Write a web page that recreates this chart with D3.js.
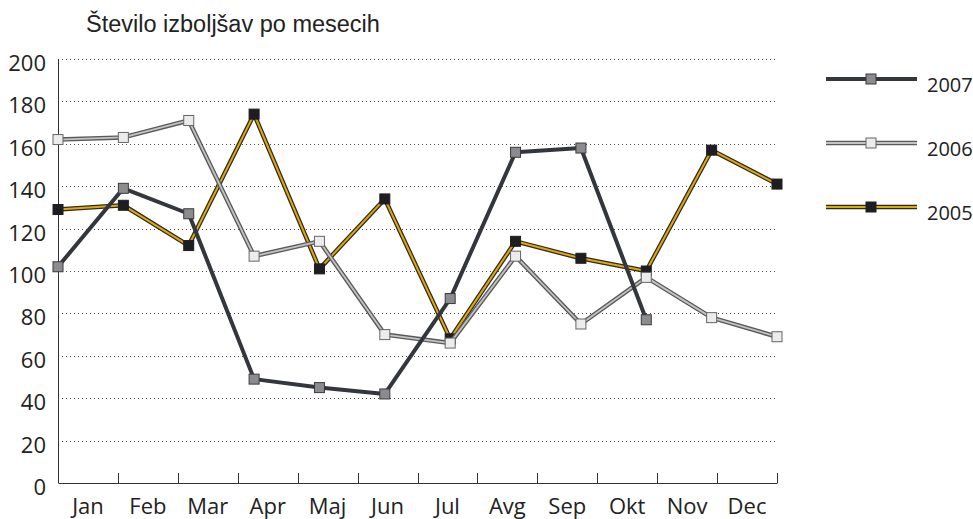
<!DOCTYPE html>
<html>
<head>
<meta charset="utf-8">
<script src="https://cdn.jsdelivr.net/npm/d3@7"></script>
<style>
    body { margin: 0; background: #fff; }
    svg { display: block; font-family: "Open Sans", "Noto Sans", sans-serif; }
</style>
</head>
<body>
<script>
const months = ["Jan", "Feb", "Mar", "Apr", "Maj", "Jun", "Jul", "Avg", "Sep", "Okt", "Nov", "Dec"]
const yTicks = [0, 20, 40, 60, 80, 100, 120, 140, 160, 180, 200]

const values2007 = [102, 139, 127, 49, 45, 42, 87, 156, 158, 77]
const values2006 = [162, 163, 171, 107, 114, 70, 66, 107, 75, 97, 78, 69]
const values2005 = [129, 131, 112, 174, 101, 134, 68, 114, 106, 100, 157, 141]

const WIDTH = 973
const HEIGHT = 519

const PADDING = {
    left: 58,
    right: 196,
    top: 59,
    bottom: 36
}

const series = [
    { name: "2007", values: values2007, outer: "#33363c", outerW: 4, inner: "#33363c", innerW: 0, fill: "#8c8c8e", stroke: "#3a3a3e" },
    { name: "2006", values: values2006, outer: "#5a5a5c", outerW: 4.5, inner: "#c4c4c4", innerW: 1.8, fill: "#ececec", stroke: "#666" },
    { name: "2005", values: values2005, outer: "#2a2a2a", outerW: 4.5, inner: "#e3a800", innerW: 2, fill: "#1e1e22", stroke: "#1e1e22" }
]

const svg = d3.select("body")
    .append("svg")
    .attr("width", WIDTH)
    .attr("height", HEIGHT)

svg.append("text")
    .attr("x", 86)
    .attr("y", 32)
    .style("font-family", "'Liberation Sans', Arial, sans-serif")
    .style("font-size", "23.5px")
    .style("fill", "#222")
    .text("Število izboljšav po mesecih")

const xBand = d3.scaleBand()
    .domain(months)
    .range([PADDING.left, WIDTH - PADDING.right])

const xPoint = d3.scalePoint()
    .domain(months)
    .range([PADDING.left, WIDTH - PADDING.right])

const yScale = d3.scaleLinear()
    .domain([0, 200])
    .range([HEIGHT - PADDING.bottom, PADDING.top])

// dotted grid
svg.append("g")
    .selectAll("line")
    .data(yTicks.filter(d => d > 0))
    .enter()
    .append("line")
    .attr("x1", PADDING.left)
    .attr("x2", WIDTH - PADDING.right)
    .attr("y1", d => Math.round(yScale(d)) + 0.5)
    .attr("y2", d => Math.round(yScale(d)) + 0.5)
    .attr("stroke", "#444")
    .attr("stroke-width", 1)
    .attr("stroke-dasharray", "1,3")

// y labels
svg.append("g")
    .selectAll("text")
    .data(yTicks)
    .enter()
    .append("text")
    .attr("x", 46)
    .attr("y", d => yScale(d) + 12)
    .attr("text-anchor", "end")
    .style("font-size", "22px")
    .style("fill", "#222")
    .text(d => d)

// axes lines
svg.append("line")
    .attr("x1", PADDING.left + 0.5)
    .attr("x2", PADDING.left + 0.5)
    .attr("y1", PADDING.top)
    .attr("y2", HEIGHT - PADDING.bottom)
    .attr("stroke", "#333")

const xAxis = d3.axisBottom(xBand).tickSize(0).tickFormat("")
const xg = svg.append("g")
    .attr("transform", "translate(0," + (HEIGHT - PADDING.bottom) + ")")
    .call(xAxis)
xg.select(".domain").attr("stroke", "#333")

svg.append("g")
    .selectAll("line")
    .data(months.concat(["end"]))
    .enter()
    .append("line")
    .attr("x1", (d, i) => Math.round(i < 12 ? xBand(d) : WIDTH - PADDING.right) + 0.5)
    .attr("x2", (d, i) => Math.round(i < 12 ? xBand(d) : WIDTH - PADDING.right) + 0.5)
    .attr("y1", HEIGHT - PADDING.bottom)
    .attr("y2", HEIGHT - PADDING.bottom - 10)
    .attr("stroke", "#333")

svg.append("g")
    .selectAll("text")
    .data(months)
    .enter()
    .append("text")
    .attr("x", d => xBand(d) + xBand.bandwidth() / 2)
    .attr("y", 514)
    .attr("text-anchor", "middle")
    .style("font-size", "22px")
    .style("fill", "#222")
    .text(d => d)

// series
const line = d3.line()
    .x((d, i) => xPoint(months[i]))
    .y(d => yScale(d))

series.slice().reverse().forEach(s => {
    const g = svg.append("g")
    g.append("path")
        .attr("d", line(s.values))
        .attr("fill", "none")
        .attr("stroke", s.outer)
        .attr("stroke-width", s.outerW)
        .attr("stroke-linejoin", "round")
    if (s.innerW > 0) {
        g.append("path")
            .attr("d", line(s.values))
            .attr("fill", "none")
            .attr("stroke", s.inner)
            .attr("stroke-width", s.innerW)
            .attr("stroke-linejoin", "round")
    }
    g.selectAll("rect")
        .data(s.values)
        .enter()
        .append("rect")
        .attr("x", (d, i) => xPoint(months[i]) - 5)
        .attr("y", d => yScale(d) - 5)
        .attr("width", 10)
        .attr("height", 10)
        .attr("fill", s.fill)
        .attr("stroke", s.stroke)
        .attr("stroke-width", 1)
})

// legend
const legend = svg.append("g")
    .attr("transform", "translate(826, 79)")

series.forEach((s, i) => {
    const row = legend.append("g")
        .attr("transform", "translate(0," + (i * 64) + ")")
    row.append("line")
        .attr("x1", 0).attr("x2", 91)
        .attr("stroke", s.outer)
        .attr("stroke-width", s.outerW)
    if (s.innerW > 0) {
        row.append("line")
            .attr("x1", 0).attr("x2", 91)
            .attr("stroke", s.inner)
            .attr("stroke-width", s.innerW)
    }
    row.append("rect")
        .attr("x", 40).attr("y", -5)
        .attr("width", 10).attr("height", 10)
        .attr("fill", s.fill)
        .attr("stroke", s.stroke)
    row.append("text")
        .attr("x", 101)
        .attr("y", 13)
        .style("font-size", "20px")
        .style("fill", "#222")
        .text(s.name)
})
</script>
</body>
</html>
